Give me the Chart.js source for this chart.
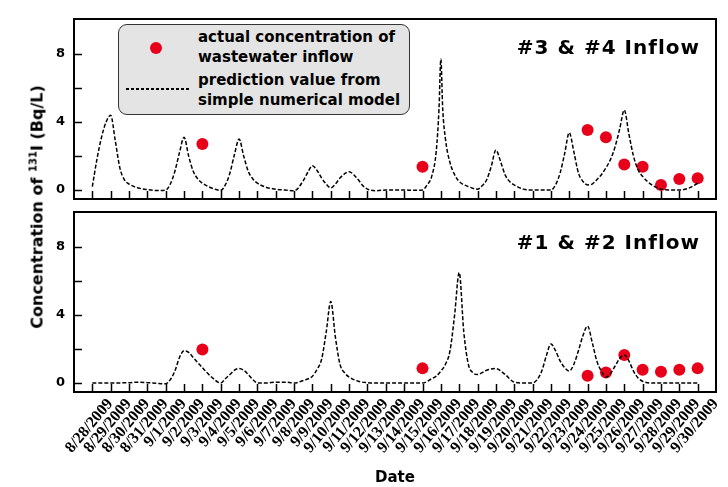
<!DOCTYPE html>
<html lang="en">
<head>
<meta charset="UTF-8">
<title>131I concentration - inflow</title>
<script src="https://cdn.jsdelivr.net/npm/chart.js"></script>
<style>
    body {
        margin: 0;
        background: #fff;
        font-family: 'DejaVu Sans', Verdana, sans-serif;
    }
    #wrap {
        position: relative;
        width: 728px;
        height: 487px;
    }
    #topBox { position: absolute; left: 0; top: 0; width: 728px; height: 205px; }
    #botBox { position: absolute; left: 0; top: 205px; width: 728px; height: 282px; }
    .ytitle {
        position: absolute;
        left: 37px;
        top: 207px;
        transform: translate(-50%, -50%) rotate(-90deg);
        white-space: nowrap;
        font-weight: bold;
        font-size: 16px;
    }
    .ytitle sup { font-size: 10px; vertical-align: 6px; }
    .panel {
        position: absolute;
        right: 28px;
        font-weight: bold;
        font-size: 20px;
        letter-spacing: 1px;
        white-space: nowrap;
    }
    #legend {
        position: absolute;
        left: 118px;
        top: 24px;
        width: 290px;
        height: 89px;
        border: 1.5px solid #333;
        border-radius: 9px;
        background: #e4e4e4;
        font-weight: bold;
        font-size: 15px;
        line-height: 19.5px;
    }
    #legend .dot {
        position: absolute;
        left: 31px; top: 17px;
        width: 12px; height: 12px;
        border-radius: 50%;
        background: #e8001a;
    }
    #legend .dash {
        position: absolute;
        left: 7px; top: 63px;
        width: 63px; height: 1.5px;
        background: repeating-linear-gradient(to right, #000 0 3px, transparent 3px 5px);
    }
    #legend .txt { position: absolute; left: 79px; white-space: nowrap; }
</style>
</head>
<body>
<div id="wrap">
    <div id="topBox"><canvas id="topChart"></canvas></div>
    <div id="botBox"><canvas id="botChart"></canvas></div>
    <div class="ytitle">Concentration of <sup>131</sup>I (Bq/L)</div>
    <div class="panel" style="top:35px">#3 &amp; #4 Inflow</div>
    <div class="panel" style="top:230px">#1 &amp; #2 Inflow</div>
    <div id="legend">
        <span class="dot"></span>
        <div class="txt" style="top:3px">actual concentration of<br>wastewater inflow</div>
        <span class="dash"></span>
        <div class="txt" style="top:46px">prediction value from<br>simple numerical model</div>
    </div>
</div>

<script>
    // tick labels (one per day, index 0 = 8/28/2009)
    const dateLabels = [
        '8/28/2009', '8/29/2009', '8/30/2009', '8/31/2009',
        '9/1/2009', '9/2/2009', '9/3/2009', '9/4/2009', '9/5/2009', '9/6/2009',
        '9/7/2009', '9/8/2009', '9/9/2009', '9/10/2009', '9/11/2009', '9/12/2009',
        '9/13/2009', '9/14/2009', '9/15/2009', '9/16/2009', '9/17/2009', '9/18/2009',
        '9/19/2009', '9/20/2009', '9/21/2009', '9/22/2009', '9/23/2009', '9/24/2009',
        '9/25/2009', '9/26/2009', '9/27/2009', '9/28/2009', '9/29/2009', '9/30/2009'
    ];

    // measured values (day index)
    const obsDays = [6, 18, 27, 28, 29, 30, 31, 32, 33];
    const obsTop = [2.7, 1.37, 3.53, 3.1, 1.5, 1.37, 0.3, 0.65, 0.69];
    const obsBot = [1.97, 0.86, 0.43, 0.62, 1.64, 0.78, 0.66, 0.78, 0.86];

    // model curve, #3 & #4 inflow
    const predTopDays = [
        0, 0.25, 0.5, 0.75, 1, 1.25, 1.5, 1.75, 2, 2.5, 3, 3.5, 4,
        4.25, 4.5, 4.75, 5, 5.25, 5.5, 5.75, 6, 6.5, 7,
        7.25, 7.5, 7.75, 8, 8.25, 8.5, 8.75, 9, 9.5, 10, 10.5, 11,
        11.5, 11.75, 12, 12.25, 12.5, 12.75, 13,
        13.25, 13.5, 13.75, 14, 14.25, 14.5, 14.75, 15, 15.5, 16, 17, 17.5, 18,
        18.25, 18.5, 18.75, 18.9, 19, 19.1, 19.25, 19.5, 19.75, 20, 20.5, 21,
        21.25, 21.5, 21.75, 22, 22.25, 22.5, 22.75, 23, 23.5, 24, 24.5, 25,
        25.25, 25.5, 25.75, 26, 26.25, 26.5, 26.75, 27, 27.25, 27.5, 27.75, 28,
        28.25, 28.5, 28.75, 29, 29.25, 29.5, 29.75, 30, 30.5, 31, 31.5, 32, 32.5, 33
    ];
    const predTop = [
        0.2, 1.8, 3.1, 4.0, 4.4, 2.9, 1.3, 0.6, 0.35, 0.12, 0.02, -0.03, 0.0,
        0.35, 1.1, 2.2, 3.1, 2.0, 1.1, 0.65, 0.4, 0.12, -0.02,
        0.3, 1.0, 2.1, 3.0, 2.0, 1.1, 0.65, 0.4, 0.15, 0.05, 0.0, -0.05,
        0.55, 1.05, 1.43, 1.15, 0.7, 0.35, 0.12,
        0.35, 0.7, 0.95, 1.08, 0.9, 0.6, 0.25, 0.05, -0.04, 0.0, 0.0, -0.02, 0.0,
        0.3, 0.8, 2.3, 4.8, 7.7, 4.8, 3.0, 1.6, 0.9, 0.5, 0.2, 0.05,
        0.25, 0.6, 1.4, 2.35, 1.7, 0.9, 0.5, 0.3, 0.05, 0.0, 0.0, 0.0,
        0.3, 1.0, 2.15, 3.37, 2.25, 1.0, 0.5, 0.3, 0.35, 0.6, 0.9, 1.3,
        1.8, 2.55, 3.6, 4.7, 3.3, 2.0, 1.2, 0.8, 0.3, 0.05, 0.0, 0.0, 0.1, 0.4
    ];

    // model curve, #1 & #2 inflow
    const predBotDays = [
        0, 1, 2, 2.5, 3, 3.5, 4, 4.25, 4.5, 4.75, 5, 5.25, 5.5, 5.75, 6, 6.5, 7,
        7.25, 7.5, 7.75, 8, 8.25, 8.5, 8.75, 9, 9.5, 10, 10.5, 11, 11.5, 12,
        12.25, 12.5, 12.75, 13, 13.25, 13.5, 13.75, 14, 14.5, 15, 15.5, 16, 17, 18,
        18.5, 18.75, 19, 19.25, 19.5, 19.75, 20, 20.25, 20.5, 20.75, 21, 21.5, 22,
        22.5, 23, 23.5, 24, 24.25, 24.5, 24.75, 25, 25.25, 25.5, 25.75, 26,
        26.25, 26.5, 26.75, 27, 27.25, 27.5, 27.75, 28, 28.25, 28.5, 28.75, 29,
        29.25, 29.5, 29.75, 30, 30.5, 31, 32, 33
    ];
    const predBot = [
        0, 0, 0.02, 0.05, 0.02, -0.02, -0.05, 0.2, 0.7, 1.5, 1.9, 1.8, 1.5, 1.2, 0.9, 0.35, 0.0,
        0.25, 0.5, 0.75, 0.85, 0.75, 0.5, 0.2, 0.0, 0.0, 0.05, 0.05, 0.0, 0.15, 0.4,
        0.8, 1.4, 3.0, 4.8, 2.7, 1.1, 0.6, 0.35, 0.1, 0.02, 0.0, 0.0, 0.0, 0.0,
        0.25, 0.4, 0.7, 1.1, 1.9, 4.0, 6.5, 3.0, 1.1, 0.6, 0.5, 0.75, 0.85,
        0.5, 0.05, 0.0, 0.0, 0.2, 0.7, 1.6, 2.3, 1.9, 1.3, 0.9, 0.7,
        1.1, 1.9, 2.8, 3.35, 2.4, 1.3, 0.7, 0.35, 0.55, 1.0, 1.45, 1.65,
        1.3, 0.7, 0.3, 0.1, 0.0, 0.0, 0.0, 0.0
    ];

    const pts = (xs, ys) => xs.map((x, i) => ({ x: x, y: ys[i] }));

    // kill the extra label margins chart.js adds, so the plot box sits where the layout says
    function noPad(s) {
        s.paddingTop = 0;
        s.paddingBottom = 0;
        s.paddingLeft = 0;
        s.paddingRight = 0;
    }

    // box frame + inward tick marks
    const framePlugin = {
        id: 'frame',
        afterDraw(chart) {
            const { ctx, chartArea: a, scales } = chart;
            ctx.save();
            ctx.strokeStyle = '#000';
            ctx.lineWidth = 1.5;
            ctx.beginPath();
            dateLabels.forEach((_, i) => {
                const px = Math.round(scales.x.getPixelForValue(i)) + 0.5;
                ctx.moveTo(px, a.bottom);
                ctx.lineTo(px, a.bottom - 8);
            });
            scales.y.ticks.forEach(t => {
                if (t.value >= 10) return;
                const py = Math.round(scales.y.getPixelForValue(t.value)) + 0.5;
                ctx.moveTo(a.left, py);
                ctx.lineTo(a.left + 8, py);
            });
            ctx.stroke();
            ctx.lineWidth = 2;
            ctx.strokeRect(a.left, a.top, a.right - a.left, a.bottom - a.top);
            ctx.restore();
        }
    };

    function makeChart(id, predDays, pred, obs, isBottom) {
        return new Chart(document.getElementById(id), {
            type: 'line',
            data: {
                datasets: [{
                    label: 'prediction value from simple numerical model',
                    data: pts(predDays, pred),
                    borderColor: '#000',
                    borderWidth: 1.5,
                    borderDash: [4, 2],
                    pointRadius: 0,
                    cubicInterpolationMode: 'monotone',
                    fill: false
                }, {
                    label: 'actual concentration of wastewater inflow',
                    data: pts(obsDays, obs),
                    showLine: false,
                    pointRadius: 6,
                    pointBackgroundColor: '#e8001a',
                    pointBorderColor: '#e8001a',
                    pointBorderWidth: 0
                }]
            },
            options: {
                responsive: true,
                maintainAspectRatio: false,
                animation: false,
                layout: {
                    padding: isBottom ? { top: 7, right: 12, bottom: 0, left: 0 }
                                      : { top: 19, right: 12, bottom: 6, left: 0 }
                },
                plugins: {
                    legend: { display: false },
                    tooltip: { enabled: false }
                },
                scales: {
                    x: {
                        type: 'linear',
                        min: -1,
                        max: 34,
                        grid: { display: false, drawTicks: false },
                        border: { display: false },
                        ticks: {
                            display: isBottom,
                            stepSize: 1,
                            autoSkip: false,
                            minRotation: 50,
                            maxRotation: 50,
                            labelOffset: 18,
                            padding: 3,
                            color: '#000',
                            font: { family: 'Liberation Serif', size: 16, weight: 'bold' },
                            callback: v => dateLabels[v] || ''
                        },
                        title: {
                            display: isBottom,
                            text: 'Date',
                            color: '#000',
                            font: { family: 'DejaVu Sans', size: 15, weight: 'bold' },
                            padding: { top: 0, bottom: 0 }
                        },
                        afterFit: s => { s.height = isBottom ? 95 : 0; noPad(s); }
                    },
                    y: {
                        min: -0.53,
                        max: 10.06,
                        grid: { display: false, drawTicks: false },
                        border: { display: false },
                        ticks: {
                            stepSize: 2,
                            includeBounds: false,
                            padding: 9,
                            color: '#000',
                            font: { family: 'DejaVu Sans', size: 13, weight: 'bold' },
                            callback: v => (v % 4 === 0 ? v : '')
                        },
                        afterFit: s => { s.width = 74; noPad(s); }
                    }
                }
            },
            plugins: [framePlugin]
        });
    }

    makeChart('topChart', predTopDays, predTop, obsTop, false);
    makeChart('botChart', predBotDays, predBot, obsBot, true);
</script>
</body>
</html>
